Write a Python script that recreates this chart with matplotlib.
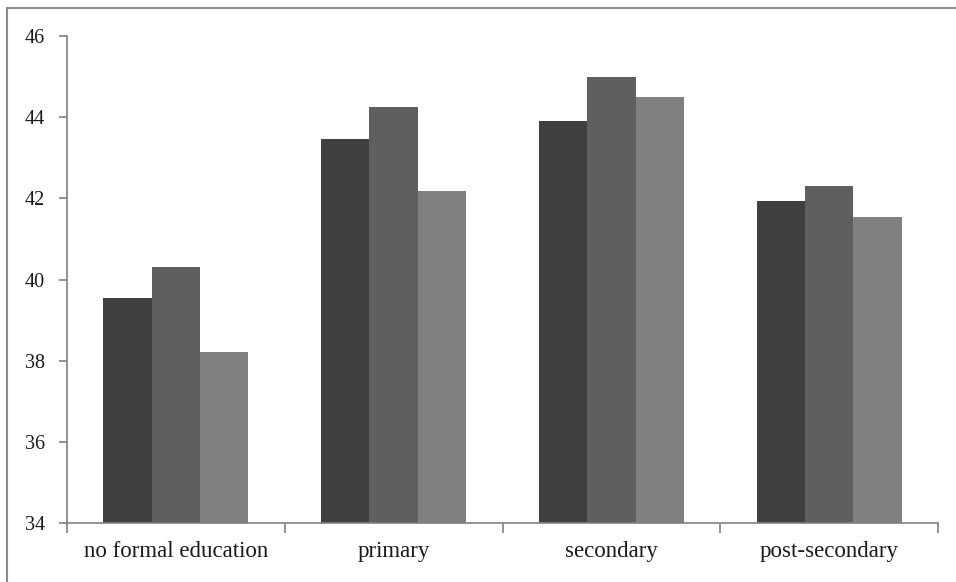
import matplotlib
matplotlib.use("Agg")
import matplotlib.pyplot as plt
from matplotlib.patches import Rectangle
import numpy as np

categories = ["no formal education", "primary", "secondary", "post-secondary"]
series_a = [39.55, 43.45, 43.9, 41.93]
series_b = [40.3, 44.25, 45.0, 42.3]
series_c = [38.22, 42.18, 44.5, 41.53]
y_ticks = [34, 36, 38, 40, 42, 44, 46]

colors = ["#404040", "#5f5f5f", "#808080"]

W, H = 956, 582
fig = plt.figure(figsize=(W / 100, H / 100), dpi=100)
fig.patch.set_facecolor("white")

# outer chart frame (runs off the right and bottom edges)
fig.patches.append(Rectangle((7 / W, -0.05), 1.2, 1 - 8 / H + 0.05,
                             transform=fig.transFigure, fill=False,
                             edgecolor="#8c8c8c", linewidth=1.5))

left, right, top, bottom = 67, 938, 36, 523
ax = fig.add_axes([left / W, 1 - bottom / H, (right - left) / W, (bottom - top) / H])

x = np.arange(len(categories))
w = 1 / 4.5
for i, vals in enumerate([series_a, series_b, series_c]):
    ax.bar(x + (i - 1) * w, np.array(vals) - 34, width=w, bottom=34,
           color=colors[i], edgecolor="none", zorder=2)

ax.set_xlim(-0.5, len(categories) - 0.5)
ax.set_ylim(34, 46)
ax.set_yticks(y_ticks)
ax.set_yticklabels([str(t) for t in y_ticks])

ax.set_xticks(x)
ax.set_xticklabels(categories)
ax.set_xticks(np.arange(len(categories) + 1) - 0.5, minor=True)
ax.tick_params(axis="x", which="major", length=0, pad=13)
ax.tick_params(axis="x", which="minor", length=7, direction="out", color="#808080", width=1.2)
ax.tick_params(axis="y", length=6, direction="out", color="#808080", width=1.2, pad=10)

for lab in ax.get_xticklabels():
    lab.set_fontfamily("Liberation Serif")
    lab.set_fontsize(16.5)
    lab.set_color("#1a1a1a")
for lab in ax.get_yticklabels():
    lab.set_fontfamily("Liberation Serif")
    lab.set_fontsize(14.5)
    lab.set_color("#1a1a1a")

for s in ["top", "right"]:
    ax.spines[s].set_visible(False)
for s in ["left", "bottom"]:
    ax.spines[s].set_color("#808080")
    ax.spines[s].set_linewidth(1.2)

fig.savefig("out.png", dpi=100, facecolor="white")
